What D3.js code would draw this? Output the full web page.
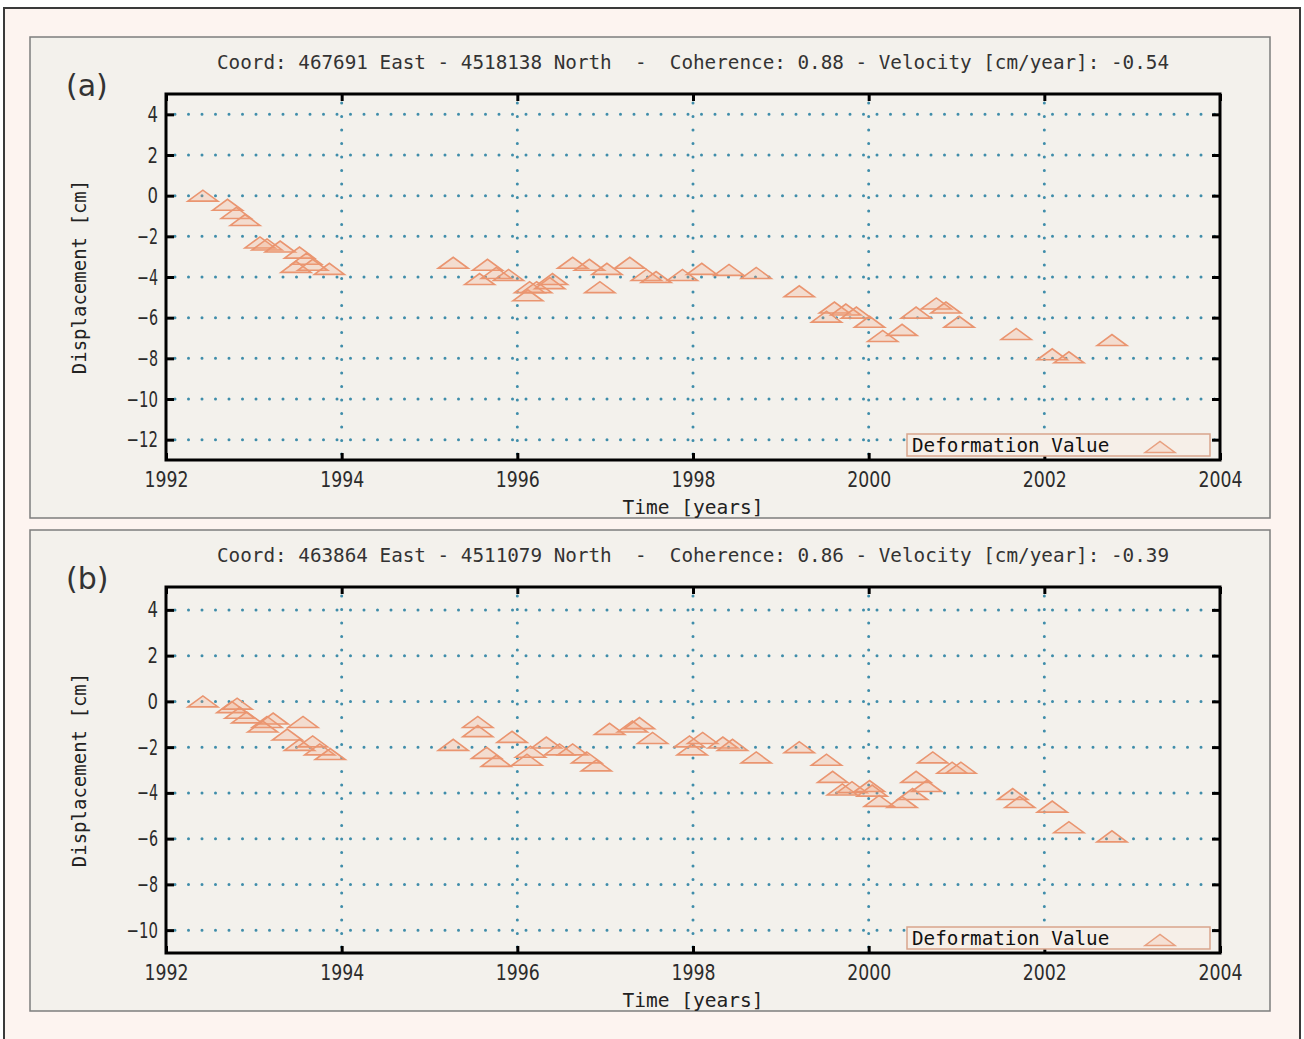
<!DOCTYPE html>
<html>
<head>
<meta charset="utf-8">
<script src="https://cdn.jsdelivr.net/npm/d3@7"></script>
<style>
  html, body { margin: 0; padding: 0; background: #fff; }
  svg { display: block; }
  .mono { font-family: "DejaVu Sans Mono", monospace; }
</style>
</head>
<body>
<div id="chart"></div>
<script>
// time ticks shared by both panels
const xTicks = [1992, 1994, 1996, 1998, 2000, 2002, 2004];

// panel (a)
const titleA = 'Coord: 467691 East - 4518138 North  -  Coherence: 0.88 - Velocity [cm/year]: -0.54';
const yTicksA = [4, 2, 0, -2, -4, -6, -8, -10, -12];
const yearsA = [1992.42, 1992.70, 1992.80, 1992.90, 1993.07, 1993.15, 1993.30, 1993.52, 1993.60, 1993.48,
  1993.67, 1993.86, 1995.27, 1995.57, 1995.66, 1995.76, 1995.90, 1996.12, 1996.14, 1996.22,
  1996.37, 1996.40, 1996.63, 1996.82, 1996.94, 1997.02, 1997.28, 1997.47, 1997.58, 1997.88,
  1998.10, 1998.41, 1998.72, 1999.21, 1999.52, 1999.61, 1999.74, 1999.86, 2000.01, 2000.16,
  2000.38, 2000.54, 2000.77, 2000.88, 2001.03, 2001.68, 2002.09, 2002.28, 2002.77];
const dispA = [0.0, -0.45, -0.85, -1.2, -2.3, -2.4, -2.5, -2.8, -3.1, -3.5,
  -3.4, -3.6, -3.3, -4.1, -3.4, -3.8, -3.9, -4.9, -4.5, -4.5,
  -4.3, -4.1, -3.3, -3.4, -4.5, -3.6, -3.3, -3.9, -4.0, -3.9,
  -3.6, -3.65, -3.8, -4.7, -5.95, -5.5, -5.6, -5.75, -6.2, -6.9,
  -6.6, -5.75, -5.3, -5.5, -6.2, -6.8, -7.8, -7.95, -7.1];

// panel (b)
const titleB = 'Coord: 463864 East - 4511079 North  -  Coherence: 0.86 - Velocity [cm/year]: -0.39';
const yTicksB = [4, 2, 0, -2, -4, -6, -8, -10];
const yearsB = [1992.42, 1992.75, 1992.81, 1992.84, 1992.92, 1993.15, 1993.22, 1993.10, 1993.38, 1993.56,
  1993.52, 1993.67, 1993.75, 1993.87, 1995.27, 1995.55, 1995.55, 1995.65, 1995.76, 1995.94,
  1996.11, 1996.15, 1996.33, 1996.48, 1996.63, 1996.79, 1996.90, 1997.05, 1997.31, 1997.39,
  1997.54, 1997.96, 1997.99, 1998.11, 1998.34, 1998.45, 1998.72, 1999.21, 1999.52, 1999.59,
  1999.70, 1999.81, 2000.01, 2000.04, 2000.12, 2000.38, 2000.50, 2000.54, 2000.66, 2000.73,
  2000.95, 2001.05, 2001.64, 2001.72, 2002.09, 2002.28, 2002.77];
const dispB = [0.0, -0.25, -0.1, -0.5, -0.7, -0.9, -0.75, -1.1, -1.45, -0.9,
  -1.9, -1.75, -2.1, -2.3, -1.9, -0.9, -1.3, -2.25, -2.6, -1.55,
  -2.55, -2.2, -1.8, -2.1, -2.1, -2.45, -2.8, -1.2, -1.1, -0.95,
  -1.6, -1.75, -2.1, -1.6, -1.8, -1.9, -2.45, -2.0, -2.55, -3.3,
  -3.85, -3.75, -3.7, -3.9, -4.35, -4.4, -4.05, -3.3, -3.7, -2.45,
  -2.9, -2.9, -4.05, -4.4, -4.6, -5.5, -5.9];

const panels = [
  {tag: '(a)', title: titleA, yTicks: yTicksA, yDomain: [-13, 5], years: yearsA, disp: dispA, dy: 0},
  {tag: '(b)', title: titleB, yTicks: yTicksB, yDomain: [-11, 5], years: yearsB, disp: dispB, dy: 493},
];

const W = 1304, H = 1039;
const plot = {left: 166, right: 1220, top: 94, bottom: 460};
const markW = 30, markH = 11;
const triangle = `M${-markW / 2},${markH / 2}L0,${-markH / 2}L${markW / 2},${markH / 2}Z`;

const svg = d3.select('#chart').append('svg')
  .attr('width', W)
  .attr('height', H);

svg.append('rect')
  .attr('x', 4).attr('y', 8).attr('width', 1296).attr('height', 1040)
  .attr('fill', '#fdf4f0').attr('stroke', '#3a3a3a').attr('stroke-width', 2);

const x = d3.scaleLinear().domain([1992, 2004]).range([plot.left, plot.right]);

function squeeze(sel, perChar) {
  sel.each(function() {
    const t = d3.select(this);
    t.attr('textLength', t.text().length * perChar).attr('lengthAdjust', 'spacingAndGlyphs');
  });
}

for (const p of panels) {
  const g = svg.append('g').attr('transform', `translate(0,${p.dy})`);
  const y = d3.scaleLinear().domain(p.yDomain).range([plot.bottom, plot.top]);
  const pw = plot.right - plot.left, ph = plot.bottom - plot.top;

  g.append('rect')
    .attr('x', 30).attr('y', 37).attr('width', 1240).attr('height', 481)
    .attr('fill', '#f3f1ec').attr('stroke', '#7d7d7d').attr('stroke-width', 1.5);

  g.append('text')
    .attr('x', 66).attr('y', 96)
    .attr('font-family', 'DejaVu Sans, sans-serif').attr('font-size', 30)
    .attr('fill', '#333')
    .text(p.tag);

  g.append('text').attr('class', 'mono')
    .attr('x', (plot.left + plot.right) / 2).attr('y', 69)
    .attr('text-anchor', 'middle').attr('font-size', 19.5).attr('fill', '#333')
    .attr('textLength', 952).attr('lengthAdjust', 'spacingAndGlyphs')
    .style('white-space', 'pre')
    .text(p.title);

  // dotted grid
  const grid = g.append('g')
    .attr('stroke', '#3f8daa').attr('stroke-width', 3)
    .attr('stroke-linecap', 'round').attr('stroke-dasharray', '0,13.5');
  grid.selectAll('line.h').data(p.yTicks).join('line')
    .attr('x1', plot.left + 9).attr('x2', plot.right - 4)
    .attr('y1', d => y(d)).attr('y2', d => y(d));
  grid.selectAll('line.v').data(xTicks.slice(1, -1)).join('line')
    .attr('x1', d => x(d)).attr('x2', d => x(d))
    .attr('y1', plot.top + 9).attr('y2', plot.bottom - 4);

  // axes, ticks drawn inwards like gnuplot
  const axL = g.append('g').attr('transform', `translate(${plot.left},0)`)
    .call(d3.axisLeft(y).tickValues(p.yTicks).tickSize(-8).tickPadding(8));
  const axR = g.append('g').attr('transform', `translate(${plot.right},0)`)
    .call(d3.axisRight(y).tickValues(p.yTicks).tickSize(-8).tickFormat(''));
  const axB = g.append('g').attr('transform', `translate(0,${plot.bottom})`)
    .call(d3.axisBottom(x).tickValues(xTicks).tickSize(-7).tickPadding(11).tickFormat(d3.format('d')));
  const axT = g.append('g').attr('transform', `translate(0,${plot.top})`)
    .call(d3.axisTop(x).tickValues(xTicks).tickSize(-7).tickFormat(''));
  for (const ax of [axL, axR, axB, axT]) {
    ax.select('.domain').remove();
    ax.selectAll('line').attr('stroke', '#000').attr('stroke-width', 3);
  }
  for (const ax of [axL, axB]) {
    ax.selectAll('text')
      .attr('font-family', 'DejaVu Sans, sans-serif').attr('font-size', 22)
      .attr('fill', '#2b2b2b');
  }
  axL.selectAll('text').text(d => String(d).replace('-', '\u2212')).call(squeeze, 10.5);
  axB.selectAll('text').call(squeeze, 11);

  g.append('rect')
    .attr('x', plot.left).attr('y', plot.top).attr('width', pw).attr('height', ph)
    .attr('fill', 'none').attr('stroke', '#000').attr('stroke-width', 3);

  g.append('text').attr('class', 'mono')
    .attr('x', (plot.left + plot.right) / 2).attr('y', 514)
    .attr('text-anchor', 'middle').attr('font-size', 19.5).attr('fill', '#222')
    .text('Time [years]');
  g.append('text').attr('class', 'mono')
    .attr('transform', `translate(86,${(plot.top + plot.bottom) / 2}) rotate(-90)`)
    .attr('text-anchor', 'middle').attr('font-size', 19).attr('fill', '#222')
    .text('Displacement [cm]');

  // legend
  const lg = g.append('g');
  lg.append('rect')
    .attr('x', 907).attr('y', 434).attr('width', 303).attr('height', 22)
    .attr('fill', '#f6efe8').attr('stroke', '#d9a58c').attr('stroke-width', 1.5);
  lg.append('text').attr('class', 'mono')
    .attr('x', 912).attr('y', 452).attr('font-size', 19.3).attr('fill', '#111')
    .text('Deformation Value');
  lg.append('path')
    .attr('d', triangle)
    .attr('transform', 'translate(1160,447)')
    .attr('fill', 'rgba(245,180,150,0.25)').attr('stroke', '#e8a080').attr('stroke-width', 1.5);

  // data markers
  g.append('g').selectAll('path')
    .data(d3.zip(p.years, p.disp))
    .join('path')
      .attr('d', triangle)
      .attr('transform', ([t, v]) => `translate(${x(t)},${y(v)})`)
      .attr('fill', 'rgba(242,160,120,0.25)')
      .attr('stroke', '#ea9570').attr('stroke-width', 1.6);
}
</script>
</body>
</html>
